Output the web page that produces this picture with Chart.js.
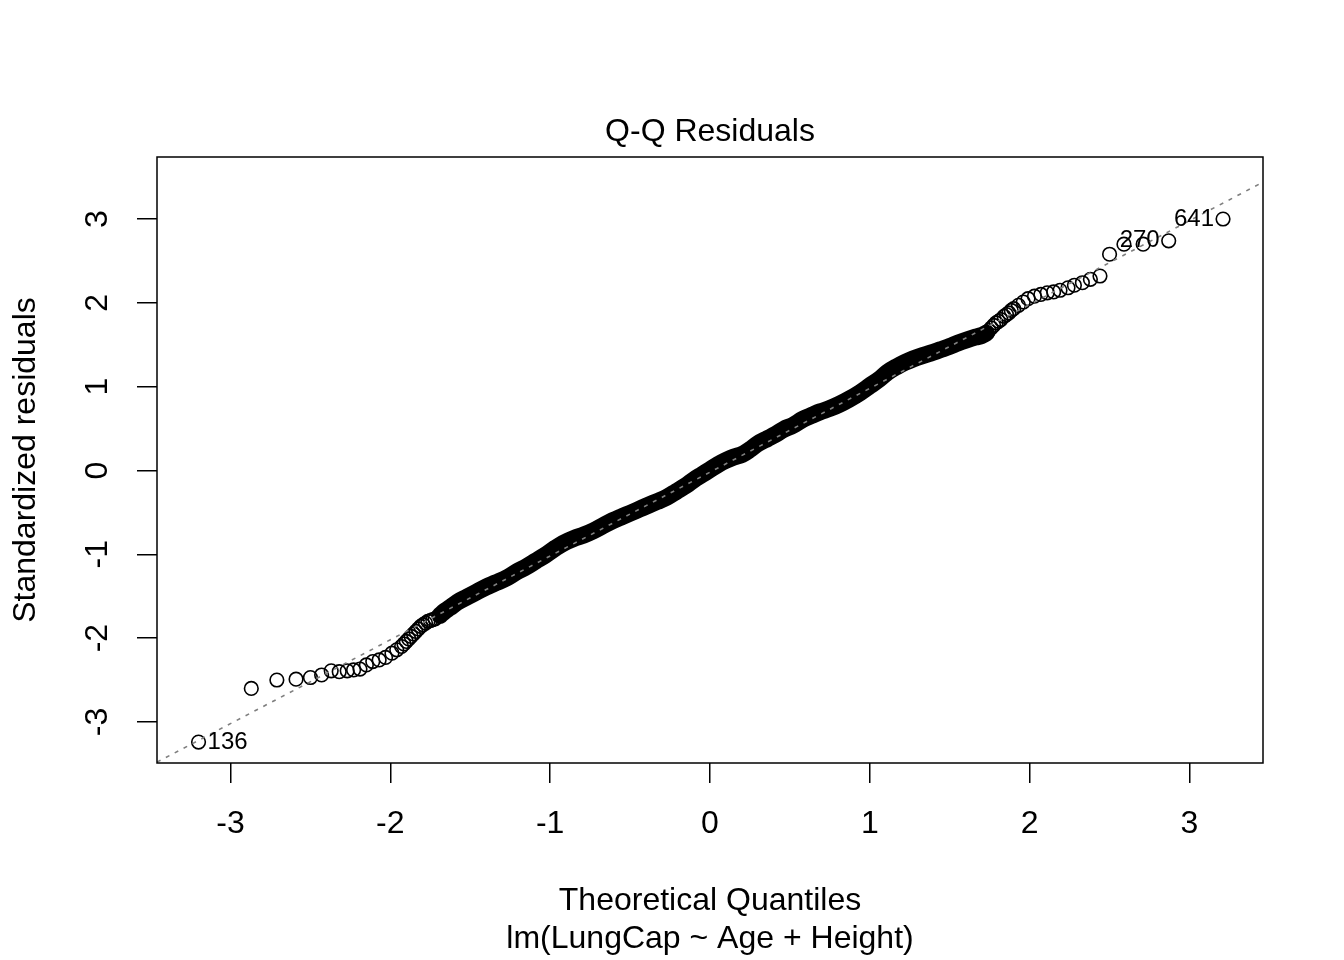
<!DOCTYPE html>
<html>
<head>
<meta charset="utf-8">
<title>Q-Q Residuals</title>
<script src="https://cdn.jsdelivr.net/npm/chart.js@4.4.1/dist/chart.umd.min.js"></script>
<style>
  body { margin: 0; background: #fff; }
</style>
</head>
<body>
<canvas id="qqChart" width="1344" height="960"></canvas>
<script>
// Theoretical quantiles (x) and standardized residuals (y)
const theoQ = [
  -3.20, -2.87, -2.71, -2.59, -2.50, -2.43, -2.37, -2.32, -2.27, -2.23,
  -2.19, -2.15, -2.11, -2.07, -2.03, -1.99, -1.96, -1.93, -1.915, -1.90,
  -1.885, -1.87, -1.855, -1.84, -1.825, -1.81, -1.795, -1.78, -1.765, -1.75,
  -1.735, -1.72, -1.69, -1.66, -1.63, -1.58, -1.52,
  -1.46, -1.40, -1.34, -1.27, -1.21, -1.15, -1.09, -1.03, -0.97, -0.92,
  -0.85, -0.79, -0.73, -0.67, -0.61, -0.55, -0.50, -0.44, -0.38, -0.33,
  -0.27, -0.21, -0.15, -0.10, -0.05, 0.00, 0.05, 0.10, 0.15, 0.20,
  0.25, 0.30, 0.36, 0.41, 0.46, 0.52, 0.58, 0.64, 0.69, 0.75,
  0.81, 0.87, 0.94, 1.00, 1.06, 1.11, 1.17, 1.22, 1.27, 1.33,
  1.38, 1.44, 1.50, 1.55, 1.61, 1.66, 1.70, 1.73, 1.745, 1.76, 1.775, 1.79,
  1.805, 1.82, 1.84, 1.855, 1.87, 1.885, 1.90, 1.93, 1.96, 1.99, 2.03, 2.07, 2.11,
  2.15, 2.19, 2.24, 2.28, 2.33, 2.38, 2.44, 2.50, 2.59, 2.71,
  2.87, 3.21
];
const stdRes = [
  -3.24, -2.60, -2.50, -2.49, -2.47, -2.44, -2.39, -2.40, -2.39, -2.38,
  -2.37, -2.32, -2.28, -2.26, -2.23, -2.18, -2.14, -2.10, -2.07, -2.04,
  -2.01, -1.98, -1.95, -1.92, -1.89, -1.86, -1.84, -1.82, -1.80, -1.79,
  -1.78, -1.77, -1.73, -1.68, -1.64, -1.57, -1.51,
  -1.45, -1.39, -1.34, -1.28, -1.21, -1.15, -1.08, -1.01, -0.93, -0.87,
  -0.81, -0.77, -0.72, -0.66, -0.60, -0.55, -0.51, -0.46, -0.41, -0.37,
  -0.32, -0.25, -0.18, -0.11, -0.05, 0.01, 0.07, 0.12, 0.16, 0.19,
  0.25, 0.32, 0.38, 0.43, 0.49, 0.54, 0.61, 0.66, 0.70, 0.74,
  0.79, 0.85, 0.93, 1.01, 1.09, 1.17, 1.24, 1.29, 1.33, 1.37,
  1.40, 1.44, 1.48, 1.52, 1.56, 1.59, 1.61, 1.64, 1.67, 1.70, 1.73, 1.76,
  1.78, 1.80, 1.84, 1.86, 1.88, 1.91, 1.93, 1.97, 2.01, 2.05, 2.08, 2.10, 2.12,
  2.13, 2.15, 2.18, 2.21, 2.24, 2.28, 2.32, 2.58, 2.70, 2.70,
  2.74, 3.00
];

// Stretch where the circles overlap into a solid black band
const bandFrom = -1.69;
const bandTo = 1.73;

// qqline end points (at the plot edges)
const refX = [-3.46, 3.46];
const refY = [-3.48, 3.44];

// Points labelled with their row number
const idText = ["136", "270", "641"];
const idX = [-3.20, 2.87, 3.21];
const idY = [-3.24, 2.74, 3.00];
const idSide = ["right", "left", "left"];

const xTicks = [-3, -2, -1, 0, 1, 2, 3];
const yTicks = [-3, -2, -1, 0, 1, 2, 3];

const FONT = "'Liberation Sans', Arial, Helvetica, sans-serif";

const points = theoQ.map((x, i) => ({ x: x, y: stdRes[i] }));
const bandPoints = points.filter((p) => p.x >= bandFrom && p.x <= bandTo);
const refPoints = refX.map((x, i) => ({ x: x, y: refY[i] }));

// Draws the box, all the texts and the point ids (R base graphics look)
const rTextPlugin = {
  id: "rText",
  afterDraw(chart) {
    const ctx = chart.ctx;
    const area = chart.chartArea;
    const xs = chart.scales.x;
    const ys = chart.scales.y;
    const midX = (area.left + area.right) / 2;
    const midY = (area.top + area.bottom) / 2;

    ctx.save();
    // plot box
    ctx.strokeStyle = "#000";
    ctx.lineWidth = 1.5;
    ctx.strokeRect(area.left, area.top, area.right - area.left, area.bottom - area.top);

    ctx.fillStyle = "#000";
    ctx.font = "32px " + FONT;
    ctx.textAlign = "center";
    ctx.textBaseline = "middle";

    // title
    ctx.fillText("Q-Q Residuals", midX, 132);

    // x tick labels
    xTicks.forEach((v) => {
      ctx.fillText(String(v), xs.getPixelForValue(v), 824);
    });

    // x axis titles
    ctx.fillText("Theoretical Quantiles", midX, 901);
    ctx.fillText("lm(LungCap ~ Age + Height)", midX, 939);

    // y tick labels, rotated
    yTicks.forEach((v) => {
      ctx.save();
      ctx.translate(98, ys.getPixelForValue(v));
      ctx.rotate(-Math.PI / 2);
      ctx.fillText(String(v), 0, 0);
      ctx.restore();
    });

    // y axis title
    ctx.save();
    ctx.translate(26, midY);
    ctx.rotate(-Math.PI / 2);
    ctx.fillText("Standardized residuals", 0, 0);
    ctx.restore();

    // ids of the extreme points
    ctx.font = "24px " + FONT;
    idText.forEach((t, i) => {
      const px = xs.getPixelForValue(idX[i]);
      const py = ys.getPixelForValue(idY[i]);
      if (idSide[i] === "right") {
        ctx.textAlign = "left";
        ctx.fillText(t, px + 9, py);
      } else {
        ctx.textAlign = "right";
        ctx.fillText(t, px - 9, py);
      }
    });
    ctx.restore();
  },
};

new Chart(document.getElementById("qqChart"), {
  type: "scatter",
  data: {
    datasets: [
      {
        label: "qqline",
        data: refPoints,
        showLine: true,
        borderColor: "#7f7f7f",
        borderWidth: 1.6,
        borderDash: [4, 6],
        pointRadius: 0,
        order: 0,
      },
      {
        label: "residuals",
        data: points,
        showLine: false,
        pointStyle: "circle",
        pointRadius: 6.8,
        pointBorderWidth: 1.6,
        pointBorderColor: "#000",
        pointBackgroundColor: "rgba(0,0,0,0)",
        order: 1,
      },
      {
        label: "overlap",
        data: bandPoints,
        showLine: true,
        borderColor: "#000",
        borderWidth: 17,
        borderCapStyle: "round",
        borderJoinStyle: "round",
        cubicInterpolationMode: "monotone",
        pointRadius: 0,
        order: 2,
      },
    ],
  },
  options: {
    responsive: false,
    devicePixelRatio: 1,
    animation: false,
    layout: {
      padding: { top: 157, right: 81, bottom: 0, left: 0 },
    },
    plugins: {
      legend: { display: false },
      tooltip: { enabled: false },
      title: { display: false },
    },
    scales: {
      x: {
        type: "linear",
        min: -3.46,
        max: 3.46,
        ticks: { display: false, stepSize: 1, includeBounds: false },
        grid: {
          drawOnChartArea: false,
          drawTicks: true,
          tickLength: 20,
          color: "#000",
          lineWidth: 1.5,
        },
        border: { display: false },
        afterFit: (scale) => {
          scale.height = 197;
        },
      },
      y: {
        type: "linear",
        min: -3.49,
        max: 3.74,
        ticks: { display: false, stepSize: 1, includeBounds: false },
        grid: {
          drawOnChartArea: false,
          drawTicks: true,
          tickLength: 20,
          color: "#000",
          lineWidth: 1.5,
        },
        border: { display: false },
        afterFit: (scale) => {
          scale.width = 157;
        },
      },
    },
  },
  plugins: [rTextPlugin],
});
</script>
</body>
</html>
